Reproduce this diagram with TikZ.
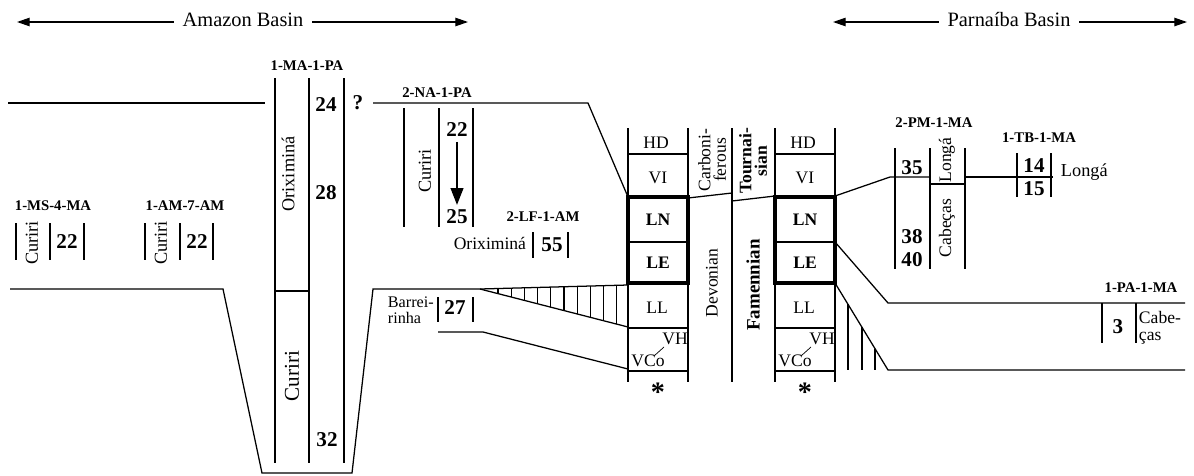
\documentclass[tikz,border=0pt]{standalone}
\usepackage{fontspec}
\setmainfont{Liberation Serif}
\usetikzlibrary{arrows.meta, positioning}

\begin{document}
\begin{tikzpicture}[
    x=0.025cm, y=-0.025cm,
    boundary/.style={draw, line width=0.9pt},
    thin/.style={draw, line width=0.5pt},
    zone/.style={draw, line width=2.6pt},
    head/.style={font=\fontsize{14.5}{16}\selectfont, inner sep=6pt},
    well/.style={font=\bfseries\fontsize{10.5}{12}\selectfont},
    num/.style={font=\bfseries\fontsize{15}{17}\selectfont},
    unit/.style={font=\fontsize{13}{14}\selectfont},
    cell/.style={font=\fontsize{12.5}{14}\selectfont},
    bcell/.style={font=\bfseries\fontsize{12.5}{14}\selectfont},
    star/.style={font=\bfseries\fontsize{20}{20}\selectfont},
    basin/.style={line width=0.9pt, -{Triangle[length=9pt,width=6pt]}}
]
    \useasboundingbox (0,0) rectangle (1194,475);

    % Basin headers
    \node[head] (amazon) at (243,20) {Amazon Basin};
    \coordinate (amazonL) at (17,22);
    \coordinate (amazonR) at (468,22);
    \draw[basin] (amazon.west |- amazonL) -- (amazonL);
    \draw[basin] (amazon.east |- amazonR) -- (amazonR);
    \node[head] (parnaiba) at (1009,20) {Parnaíba Basin};
    \coordinate (parnaibaL) at (833,22);
    \coordinate (parnaibaR) at (1187,22);
    \draw[basin] (parnaiba.west |- parnaibaL) -- (parnaibaL);
    \draw[basin] (parnaiba.east |- parnaibaR) -- (parnaibaR);

    % Boundaries of the sections
    \draw[boundary] (8,103) -- (265,103);
    \draw[boundary] (373,103) -- (588,103) -- (628,197);
    \draw[boundary] (10,289) -- (223,289) -- (262,473) -- (352,473) -- (373,289) -- (480,289) -- (628,285);
    \draw[boundary] (480,289) -- (628,327);
    \draw[boundary] (438,332) -- (483,332) -- (628,369);
    \foreach \x in {498,511.2,...,620}
        \draw[boundary] (\x,{289-4*(\x-480)/148}) -- (\x,{289+38*(\x-480)/148});
    \draw[boundary] (835,196) -- (890,177) -- (930,177);
    \draw[boundary] (965,177) -- (1053,177);
    \draw[boundary] (835,242) -- (888,303) -- (1185,303);
    \draw[boundary] (835,283) -- (888,370) -- (1185,370);
    \foreach \x in {848,862,875}
        \draw[boundary] (\x,{283+87*(\x-835)/53}) -- (\x,370);

    % 1-MS-4-MA and 1-AM-7-AM
    \node[well] (ms4) at (53,206) {1-MS-4-MA};
    \foreach \x in {16,50,84} \draw[boundary] (\x,223) -- (\x,260);
    \node[unit, rotate=90] (ms4cur) at (32,243) {Curiri};
    \node[num] (ms4n) at (67,242) {22};
    \node[well] (am7) at (185,206) {1-AM-7-AM};
    \foreach \x in {145,180,213} \draw[boundary] (\x,223) -- (\x,260);
    \node[unit, rotate=90] (am7cur) at (161,243) {Curiri};
    \node[num] (am7n) at (197,242) {22};

    % 1-MA-1-PA
    \node[well] (ma1) at (307,66) {1-MA-1-PA};
    \foreach \x in {275,309,344} \draw[boundary] (\x,78) -- (\x,463);
    \draw[boundary] (275,291) -- (309,291);
    \node[unit, rotate=90] (ma1ori) at (288,174) {Oriximiná};
    \node[unit, rotate=90, font=\fontsize{15}{16}\selectfont] (ma1cur) at (292,376) {Curiri};
    \node[num] (ma1a) at (326,105) {24};
    \node[num] (ma1b) at (326,193) {28};
    \node[num] (ma1c) at (327,440) {32};
    \node[num] (query) at (358,103) {?};

    % 2-NA-1-PA
    \node[well] (na1) at (437,93) {2-NA-1-PA};
    \foreach \x in {404,439,473} \draw[boundary] (\x,108) -- (\x,227);
    \node[unit, rotate=90] (na1cur) at (425,171) {Curiri};
    \node[num] (na1top) at (457,130) {22};
    \node[num] (na1bot) at (457,217) {25};
    \draw[line width=1.4pt, -{Triangle[length=12pt,width=9pt]}] (na1top.south) -- (na1bot.north);

    % 2-LF-1-AM
    \node[well] (lf1) at (543,217) {2-LF-1-AM};
    \node[cell, anchor=east] (lf1ori) at (531,243) {Oriximiná};
    \foreach \x in {533,568} \draw[boundary] (\x,232) -- (\x,258);
    \node[num] (lf1n) at (552,245) {55};

    % Barreirinha
    \node[cell, anchor=east, align=left, inner sep=0pt, font=\fontsize{11.5}{11.5}\selectfont] (barr) at (434,310) {Barrei-\\rinha};
    \foreach \x in {438,473} \draw[boundary] (\x,297) -- (\x,322);
    \node[num] (barrn) at (455,308) {27};

    % Stratigraphic columns
    \foreach \xa/\xb in {628/688,775/835} {
        \draw[boundary] (\xa,128) -- (\xa,382);
        \draw[boundary] (\xb,128) -- (\xb,382);
        \foreach \y in {154,328,371} \draw[boundary] (\xa,\y) -- (\xb,\y);
        \draw[boundary] (\xa,242) -- (\xb,242);
        \draw[zone] (\xa,197) rectangle (\xb,283);
        \draw[thin] ({(\xa+\xb)/2-4},356) -- ({(\xa+\xb)/2+6},347);
    }
    \node[cell] (hdA) at (656,143) {HD};
    \node[cell] (viA) at (658,178) {VI};
    \node[bcell] (lnA) at (658,220) {LN};
    \node[bcell] (leA) at (658,263) {LE};
    \node[cell] (llA) at (657,308) {LL};
    \node[cell] (vhA) at (675,339) {VH};
    \node[cell] (vcoA) at (648,361) {VCo};
    \node[star] (astA) at (658,392) {*};
    \node[cell] (hdB) at (803,143) {HD};
    \node[cell] (viB) at (805,178) {VI};
    \node[bcell] (lnB) at (805,220) {LN};
    \node[bcell] (leB) at (805,263) {LE};
    \node[cell] (llB) at (804,308) {LL};
    \node[cell] (vhB) at (822,339) {VH};
    \node[cell] (vcoB) at (795,361) {VCo};
    \node[star] (astB) at (805,392) {*};

    % Periods between the columns
    \draw[boundary] (732,128) -- (732,382);
    \draw[boundary] (688,198) -- (732,193);
    \draw[boundary] (732,201) -- (775,196);
    \node[cell, rotate=90, align=center, font=\fontsize{12.5}{11}\selectfont] (carb) at (712,160) {Carboni-\\ferous};
    \node[bcell, rotate=90, align=center, font=\bfseries\fontsize{12.5}{11}\selectfont] (tourn) at (753,161) {Tournai-\\sian};
    \node[cell, rotate=90] (devon) at (712,283) {Devonian};
    \node[bcell, rotate=90, font=\bfseries\fontsize{13.5}{15}\selectfont] (famen) at (753,285) {Famennian};

    % 2-PM-1-MA
    \node[well] (pm1) at (934,123) {2-PM-1-MA};
    \foreach \x in {895,930,965} \draw[boundary] (\x,148) -- (\x,269);
    \draw[boundary, line width=1.5pt] (930,184) -- (965,184);
    \node[num] (pm1a) at (912,168) {35};
    \node[num] (pm1b) at (912,237) {38};
    \node[num] (pm1c) at (912,260) {40};
    \node[cell, rotate=90] (pm1lon) at (947,160) {Longá};
    \node[cell, rotate=90] (pm1cab) at (947,228) {Cabeças};

    % 1-TB-1-MA
    \node[well] (tb1) at (1039,138) {1-TB-1-MA};
    \foreach \x in {1017,1051} \draw[boundary] (\x,153) -- (\x,197);
    \node[num] (tb1a) at (1034,166) {14};
    \node[num] (tb1b) at (1034,189) {15};
    \node[unit, anchor=west] (tb1lon) at (1056,172) {Longá};

    % 1-PA-1-MA
    \node[well] (pa1) at (1141,288) {1-PA-1-MA};
    \foreach \x in {1102,1136} \draw[boundary] (\x,303) -- (\x,343);
    \node[num] (pa1n) at (1118,327) {3};
    \node[cell, anchor=west, align=left, font=\fontsize{12.5}{12}\selectfont] (pa1cab) at (1134,328) {Cabe-\\ças};
\end{tikzpicture}
\end{document}
